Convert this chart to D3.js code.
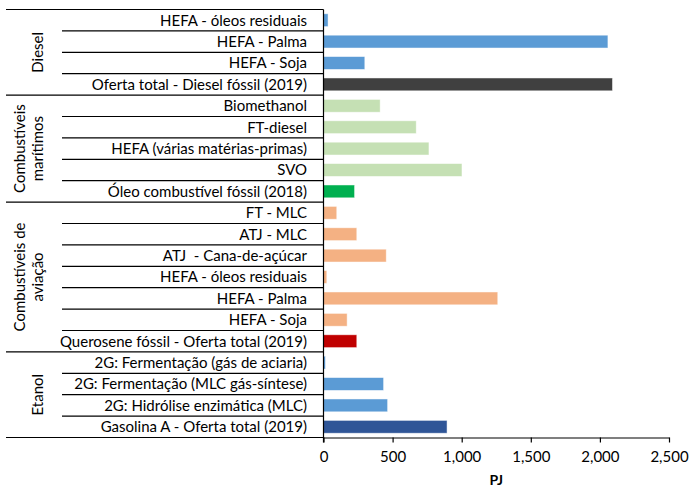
<!DOCTYPE html>
<html>
<head>
<meta charset="utf-8">
<script src="https://cdn.jsdelivr.net/npm/d3@7"></script>
<style>
  html, body { margin: 0; padding: 0; background: #fff; }
  svg text { font-family: Lato, "Open Sans", sans-serif; fill: #000; white-space: pre; }
</style>
</head>
<body>
<svg id="chart" width="689" height="488"></svg>
<script>
// Fuel groups (outer category level)
const groups = ["Diesel", "Combustíveis marítimos", "Combustíveis de aviação", "Etanol"];
const groupLines = [["Diesel"], ["Combustíveis", "marítimos"], ["Combustíveis de", "aviação"], ["Etanol"]];
const groupSizes = [4, 5, 7, 4];

// Inner categories, top to bottom
const categories = [
  "HEFA - óleos residuais", "HEFA - Palma", "HEFA - Soja", "Oferta total - Diesel fóssil (2019)",
  "Biomethanol", "FT-diesel", "HEFA (várias matérias-primas)", "SVO", "Óleo combustível fóssil (2018)",
  "FT - MLC", "ATJ - MLC", "ATJ  - Cana-de-açúcar", "HEFA - óleos residuais ", "HEFA - Palma ", "HEFA - Soja ",
  "Querosene fóssil - Oferta total (2019)",
  "2G: Fermentação (gás de aciaria)", "2G: Fermentação (MLC gás-síntese)", "2G: Hidrólise enzimática (MLC)",
  "Gasolina A - Oferta total (2019)"
];

// Energy, PJ
const values = [
  33, 2058, 299, 2091,
  410, 671, 763, 1002, 225,
  96, 241, 454, 24, 1261, 171, 241,
  14, 435, 464, 894
];

const barColors = [
  "#5B9BD5", "#5B9BD5", "#5B9BD5", "#404040",
  "#C5E0B4", "#C5E0B4", "#C5E0B4", "#C5E0B4", "#00B050",
  "#F4B183", "#F4B183", "#F4B183", "#F4B183", "#F4B183", "#F4B183", "#C00000",
  "#5B9BD5", "#5B9BD5", "#5B9BD5", "#2F5597"
];

const xTicks = [0, 500, 1000, 1500, 2000, 2500];
const xTitle = "PJ";

const svg = d3.select("#chart");
const plot = { left: 323.5, right: 669, top: 9.5, bottom: 437.5 };
const groupLineX = 6, innerLineX = 62;
const fontSize = "15px";

const x = d3.scaleLinear().domain([0, 2500]).range([plot.left, plot.right]);
const y = d3.scaleBand().domain(categories).range([plot.top, plot.bottom]).paddingInner(0.4).paddingOuter(0.2);
const rowH = (plot.bottom - plot.top) / categories.length;

// bars
svg.append("g").selectAll("rect")
  .data(categories)
  .join("rect")
  .attr("x", x(0))
  .attr("y", d => y(d))
  .attr("width", (d, i) => x(values[i]) - x(0))
  .attr("height", y.bandwidth())
  .attr("fill", (d, i) => barColors[i])
  .attr("stroke", "rgba(255,255,255,0.6)")
  .attr("stroke-width", 0.8);

// category labels
svg.append("g").selectAll("text")
  .data(categories)
  .join("text")
  .attr("x", 307)
  .attr("y", d => y(d) + y.bandwidth() / 2)
  .attr("dy", "0.36em")
  .attr("text-anchor", "end")
  .style("font-size", fontSize)
  .text(d => d.trim());

// separators between categories and groups
const lines = svg.append("g").attr("stroke", "#000").attr("stroke-width", 1.2);
const groupStarts = [];
let idx = 0;
groupSizes.forEach(n => { groupStarts.push(idx); idx += n; });
for (let i = 0; i <= categories.length; i++) {
  const yy = plot.top + rowH * i;
  const isGroup = i === categories.length || groupStarts.includes(i);
  lines.append("line")
    .attr("x1", isGroup ? groupLineX : innerLineX)
    .attr("x2", plot.left)
    .attr("y1", yy).attr("y2", yy);
}

// group labels, rotated
groups.forEach((g, gi) => {
  const cy = plot.top + rowH * (groupStarts[gi] + groupSizes[gi] / 2);
  const ls = groupLines[gi];
  const t = svg.append("text")
    .attr("transform", `translate(${ls.length === 1 ? 38 : 20},${cy}) rotate(-90)`)
    .attr("text-anchor", "middle")
    .style("font-size", fontSize);
  ls.forEach((l, li) => {
    t.append("tspan").attr("x", 0).attr("dy", li === 0 ? "0.36em" : "1.2em").text(l);
  });
});

// vertical axis line
svg.append("line")
  .attr("x1", plot.left).attr("x2", plot.left)
  .attr("y1", plot.top).attr("y2", plot.bottom + 5)
  .attr("stroke", "#000").attr("stroke-width", 1.2);

// x axis
const xAxis = svg.append("g")
  .attr("transform", `translate(0,${plot.bottom})`)
  .call(d3.axisBottom(x).tickValues(xTicks).tickFormat(d3.format(",")).tickSize(5).tickSizeOuter(0).tickPadding(9));
xAxis.select(".domain").attr("stroke", "#000").attr("stroke-width", 1.2);
xAxis.selectAll(".tick line").attr("stroke", "#000").attr("stroke-width", 1.2);
xAxis.selectAll(".tick text").style("font-size", fontSize).style("font-family", "Lato, sans-serif").attr("fill", "#000");

svg.append("text")
  .attr("x", (plot.left + plot.right) / 2)
  .attr("y", 485)
  .attr("text-anchor", "middle")
  .style("font-size", "14px")
  .style("font-weight", "bold")
  .text(xTitle);
</script>
</body>
</html>
